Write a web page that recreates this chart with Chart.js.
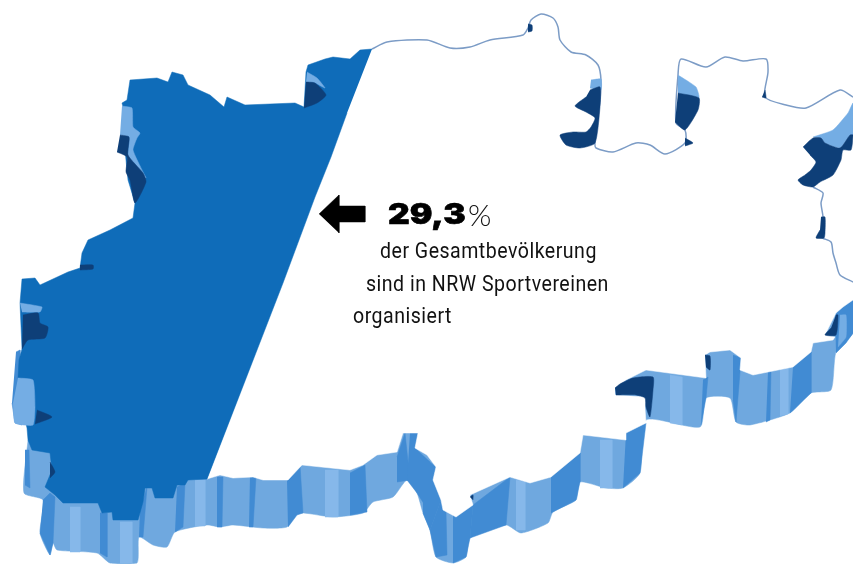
<!DOCTYPE html>
<html lang="de">
<head>
<meta charset="utf-8">
<title>NRW Sportvereine</title>
<script src="https://cdn.jsdelivr.net/npm/chart.js@4"></script>
<style>
    html, body { margin: 0; padding: 0; background: #fff; }
    #wrap { position: relative; width: 853px; height: 564px; overflow: hidden; }
    canvas { position: absolute; left: 0; top: 0; }
    .txt { position: absolute; white-space: nowrap; color: #111; line-height: 1; }
    .line { font-family: Roboto, sans-serif; font-size: 22px; letter-spacing: 0.55px; transform: scaleX(0.889); transform-origin: left top; }
    #big { left: 388px; top: 200px; font-family: Inter, sans-serif; font-weight: 900; font-size: 28px; color: #000; -webkit-text-stroke: 0.6px #000; transform: scaleX(1.2); transform-origin: left top; }
    #pct { left: 468px; top: 199px; font-family: Lato, sans-serif; font-weight: 300; font-size: 30px; }
</style>
</head>
<body>
<div id="wrap">
    <canvas id="mapChart" width="853" height="564"></canvas>
    <div class="txt" id="big"></div>
    <div class="txt" id="pct">%</div>
    <div class="txt line" style="left:380px;top:240px">der Gesamtbevölkerung</div>
    <div class="txt line" style="left:366px;top:273px">sind in NRW Sportvereinen</div>
    <div class="txt line" style="left:353px;top:305px">organisiert</div>
</div>
<script>
// Share
const shareLabel = '29,3';

// Map outlines as [x, y]
const wallOutline = [[28,440],[24,493],[43,500],[40,533],[50,555],[53,543],[57,550],[97,553],[110,563],[137,563],[139,537],[153,545],[167,547],[175,532],[207,525],[220,527],[233,525],[263,528],[287,527],[297,513],[333,517],[363,513],[373,502],[393,497],[407,480],[417,493],[423,513],[430,530],[436,557],[453,563],[466,557],[470,538],[506,525],[521,533],[548,523],[553,512],[576,500],[580,482],[606,488],[623,488],[640,473],[646,420],[700,427],[706,398],[730,398],[736,422],[750,425],[790,413],[811,393],[831,390],[836,352],[853,333],[853,300],[500,300],[100,400]];
const whiteFace = [[207,479],[220,475],[233,478],[253,477],[263,480],[288,480],[302,465],[350,470],[363,465],[377,455],[397,452],[403,433],[418,433],[415,448],[427,455],[436,467],[433,480],[441,500],[443,510],[456,517],[473,505],[470,495],[510,477],[530,483],[551,477],[580,453],[583,435],[626,440],[626,433],[646,423],[645,408],[646,397],[615,395],[615,388],[626,380],[646,370],[706,378],[705,355],[710,352],[730,350],[741,358],[740,370],[753,375],[793,367],[811,352],[813,343],[833,340],[835,337],[825,335],[836,313],[843,307],[853,300],[853,97],[372,49]];
const blueFace = [[372,49],[360,50],[350,59],[333,57],[325,59],[308,65],[306,72],[304,107],[295,103],[245,105],[227,97],[224,107],[210,95],[188,85],[183,75],[172,72],[168,82],[157,78],[130,80],[127,100],[122,103],[128,127],[125,150],[128,180],[135,203],[133,218],[110,230],[88,240],[82,253],[80,268],[68,272],[40,285],[35,278],[22,279],[20,303],[22,349],[19,360],[18,378],[25,385],[25,420],[27,428],[28,440],[32,450],[50,453],[52,470],[45,487],[55,495],[63,503],[98,503],[102,513],[112,512],[113,520],[138,520],[143,502],[145,488],[152,488],[155,498],[173,498],[177,485],[185,485],[188,480],[207,479],[283,283],[315,197],[331,157],[347,113]];

// Thin edge of the white part
const northEdge = [[372,49],[387,42],[427,40],[450,48],[470,47],[490,40],[523,35],[528,28],[531,20],[541,14],[553,18],[558,27],[560,40],[571,52],[586,55],[598,65],[601,80],[600,100],[595,143],[596,148],[613,152],[636,143],[650,145],[665,154],[685,143],[685,130],[676,123],[678,75],[681,59],[706,67],[725,57],[743,61],[766,59],[768,72],[765,97],[786,105],[806,108],[840,90],[853,97]];
const eastEdge = [[813,187],[823,193],[821,203],[823,217],[822,230],[821,237],[831,242],[833,253],[836,263],[840,275],[853,282]];

// Wall stripes, darker blue
const wallStripes = [
    [[43,500],[50,493],[55,497],[53,543],[50,555],[40,533]],
    [[25,450],[29,450],[30,488],[25,485]],
    [[100,513],[107,513],[107,557],[100,553]],
    [[140,510],[147,487],[143,537],[139,537]],
    [[177,487],[185,483],[183,527],[175,532]],
    [[217,477],[223,477],[222,527],[217,527]],
    [[250,475],[256,477],[253,527],[249,527]],
    [[287,480],[300,465],[303,513],[297,515],[288,527]],
    [[350,473],[365,465],[367,512],[350,515]],
    [[397,457],[405,433],[410,480],[397,482]],
    [[410,433],[418,433],[415,448],[430,462],[428,510],[417,493],[407,480]],
    [[423,457],[436,467],[433,480],[441,500],[430,530],[423,513]],
    [[441,500],[446,512],[447,555],[436,557],[430,530]],
    [[453,515],[473,505],[470,538],[466,557],[453,563]],
    [[473,505],[510,477],[506,525],[470,538]],
    [[551,477],[580,453],[580,482],[576,500],[551,513]],
    [[626,433],[646,423],[640,473],[623,488]],
    [[703,380],[708,377],[706,398],[701,425]],
    [[733,355],[741,358],[740,372],[736,422],[733,400]],
    [[768,372],[771,370],[770,420],[766,422]],
    [[793,367],[811,352],[811,393],[790,413]],
    [[835,308],[853,300],[853,333],[846,343],[836,353]],
    [[16,352],[20,350],[20,380],[18,400],[22,425],[15,423],[12,403]]
];
// Paler bands on the wall
const wallHighlights = [
    [[70,507],[80,507],[80,552],[70,552]],
    [[120,522],[132,522],[132,563],[120,563]],
    [[195,480],[205,480],[205,526],[195,526]],
    [[325,470],[338,470],[338,517],[325,517]],
    [[516,480],[525,482],[525,530],[516,530]],
    [[600,440],[612,440],[612,488],[600,488]],
    [[670,375],[682,377],[682,425],[670,423]],
    [[780,370],[788,368],[788,414],[780,416]]
];
// Lighter parts of the wall and the dents
const lightPieces = [
    [[18,378],[33,380],[35,407],[33,425],[15,423],[13,403]],
    [[20,303],[42,307],[40,312],[22,312]],
    [[122,106],[132,108],[133,127],[140,133],[137,138],[133,150],[143,172],[146,178],[128,165],[129,137],[120,135]],
    [[307,72],[317,78],[325,88],[315,83],[306,82]],
    [[591,80],[601,79],[601,90],[590,88]],
    [[678,75],[696,87],[699,98],[678,93]],
    [[813,137],[833,130],[848,113],[853,103],[853,135],[850,135],[840,148],[825,143],[821,138]],
    [[840,315],[846,315],[846,337],[838,347]]
];
// Inner wall seen through the dents
const darkPieces = [
    [[120,135],[129,137],[128,155],[143,173],[146,182],[135,203],[130,180],[126,172],[127,157],[117,152]],
    [[306,82],[315,83],[326,95],[317,103],[304,108]],
    [[80,265],[93,265],[93,269],[80,270]],
    [[23,315],[38,313],[40,323],[48,327],[45,338],[28,340],[22,349]],
    [[37,410],[52,417],[35,424]],
    [[50,462],[55,472],[50,478]],
    [[528,24],[532,25],[532,31],[528,32]],
    [[590,90],[600,87],[600,107],[595,143],[580,148],[566,145],[560,135],[573,132],[586,132],[591,127],[595,118],[586,112],[575,106],[586,97]],
    [[678,93],[699,98],[698,110],[685,130],[675,122]],
    [[685,138],[693,143],[685,146]],
    [[765,90],[766,98],[762,97]],
    [[803,147],[813,138],[821,138],[825,143],[840,148],[850,135],[853,135],[851,150],[843,150],[841,160],[833,175],[820,182],[813,187],[803,185],[798,180],[805,175],[811,170],[816,162],[810,155]],
    [[821,217],[825,217],[825,233],[824,238],[816,238],[820,230]],
    [[836,315],[838,315],[836,335],[825,335],[831,328]],
    [[615,388],[620,384],[633,378],[653,377],[653,390],[650,417],[646,407],[645,398],[636,395],[616,395]],
    [[705,355],[710,356],[710,370],[706,367]],
    [[470,497],[473,495],[473,500]]
];
const arrowShape = [[319,214],[339,195],[339,206],[365,206],[365,222],[339,222],[339,233]];

// Colours
const wallColor = '#6fa8df';
const highlightColor = '#86b8ea';
const stripeColor = '#418bd3';
const lightColor = '#74ade4';
const darkColor = '#0e3f78';
const faceColor = '#0f6cb9';
const edgeColor = '#7c9cc6';

const toPoints = pairs => pairs.map(p => ({ x: p[0], y: p[1] }));

// Filled polygon dataset
function shape(pairs, color, tension = 0) {
    return {
        data: toPoints(pairs),
        showLine: true,
        fill: 'shape',
        backgroundColor: color,
        borderColor: color,
        borderWidth: 0.5,
        pointRadius: 0,
        tension: tension
    };
}

// Open line dataset
function edge(pairs) {
    return {
        data: toPoints(pairs),
        showLine: true,
        fill: false,
        borderColor: edgeColor,
        borderWidth: 1.5,
        pointRadius: 0,
        tension: 0.25
    };
}

// Painter's order, bottom first
const layers = [
    shape(wallOutline, wallColor, 0.2),
    ...wallHighlights.map(s => shape(s, highlightColor)),
    ...wallStripes.map(s => shape(s, stripeColor)),
    shape(whiteFace, '#ffffff'),
    edge(northEdge),
    edge(eastEdge),
    shape(blueFace, faceColor),
    ...lightPieces.map(s => shape(s, lightColor, 0.15)),
    ...darkPieces.map(s => shape(s, darkColor, 0.2)),
    shape(arrowShape, '#000000')
];

document.getElementById('big').textContent = shareLabel;

// Chart.js paints the first dataset last, so hand them over reversed
new Chart(document.getElementById('mapChart').getContext('2d'), {
    type: 'scatter',
    data: { datasets: layers.slice().reverse() },
    options: {
        responsive: false,
        animation: false,
        layout: { padding: 0 },
        plugins: { legend: { display: false }, tooltip: { enabled: false } },
        scales: {
            x: { type: 'linear', display: false, min: 0, max: 853 },
            y: { type: 'linear', display: false, min: 0, max: 564, reverse: true }
        }
    }
});
</script>
</body>
</html>
